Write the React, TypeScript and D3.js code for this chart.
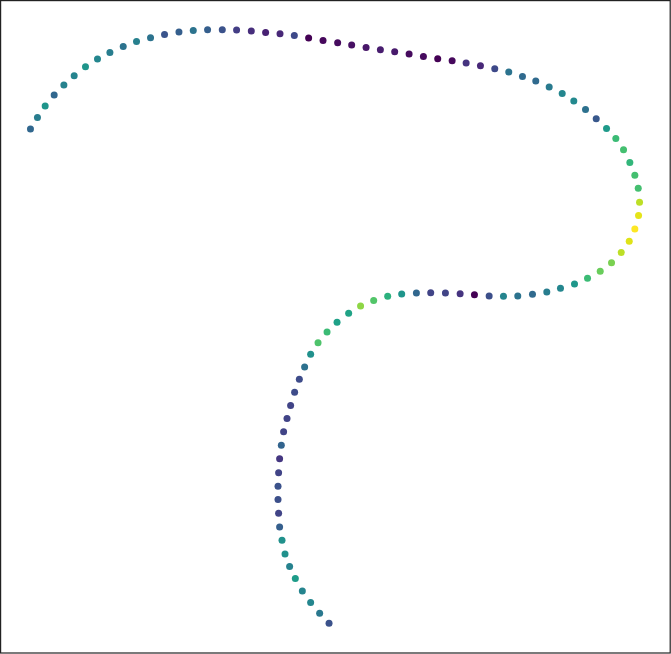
import React from "react";
import * as d3 from "d3";

const xs = [
  0.303, 0.373, 0.45, 0.54, 0.637, 0.74, 0.853, 0.973, 1.097, 1.23,
  1.363, 1.503, 1.643, 1.787, 1.93, 2.073, 2.22, 2.363, 2.51, 2.653,
  2.797, 2.94, 3.083, 3.227, 3.373, 3.513, 3.657, 3.8, 3.943, 4.087,
  4.23, 4.373, 4.517, 4.657, 4.8, 4.943, 5.083, 5.22, 5.353, 5.487,
  5.617, 5.733, 5.85, 5.957, 6.06, 6.153, 6.23, 6.293, 6.343, 6.377,
  6.39, 6.38, 6.343, 6.287, 6.207, 6.11, 5.997, 5.87, 5.74, 5.6,
  5.463, 5.32, 5.173, 5.03, 4.887, 4.74, 4.597, 4.45, 4.303, 4.16,
  4.013, 3.873, 3.733, 3.602, 3.483, 3.367, 3.267, 3.177, 3.103, 3.043,
  2.99, 2.943, 2.903, 2.867, 2.833, 2.81, 2.793, 2.783, 2.777, 2.777,
  2.783, 2.793, 2.817, 2.847, 2.893, 2.95, 3.02, 3.103, 3.193, 3.287,
];

const ys = [
  5.207, 5.323, 5.437, 5.547, 5.647, 5.74, 5.83, 5.907, 5.973, 6.033,
  6.083, 6.12, 6.153, 6.177, 6.193, 6.2, 6.2, 6.197, 6.187, 6.173,
  6.16, 6.143, 6.117, 6.093, 6.07, 6.047, 6.023, 6.0, 5.98, 5.957,
  5.933, 5.91, 5.89, 5.867, 5.84, 5.81, 5.777, 5.733, 5.687, 5.627,
  5.563, 5.487, 5.403, 5.31, 5.213, 5.113, 5.0, 4.873, 4.747, 4.617,
  4.477, 4.343, 4.21, 4.087, 3.973, 3.873, 3.787, 3.717, 3.66, 3.617,
  3.58, 3.557, 3.54, 3.537, 3.54, 3.553, 3.563, 3.57, 3.573, 3.57,
  3.56, 3.537, 3.495, 3.44, 3.367, 3.277, 3.18, 3.073, 2.957, 2.83,
  2.707, 2.577, 2.447, 2.317, 2.183, 2.05, 1.915, 1.773, 1.64, 1.507,
  1.37, 1.233, 1.1, 0.963, 0.837, 0.717, 0.593, 0.477, 0.37, 0.27,
];

const colorValues = [
  0.33, 0.42, 0.52, 0.33, 0.44, 0.45, 0.52, 0.46, 0.42, 0.38,
  0.43, 0.38, 0.26, 0.3, 0.38, 0.3, 0.25, 0.18, 0.13, 0.09,
  0.11, 0.22, 0.0, 0.02, 0.03, 0.04, 0.06, 0.08, 0.07, 0.03,
  0.03, 0.0, 0.02, 0.15, 0.11, 0.22, 0.38, 0.34, 0.34, 0.41,
  0.46, 0.47, 0.37, 0.27, 0.54, 0.68, 0.7, 0.66, 0.7, 0.7,
  0.9, 0.96, 1.0, 0.95, 0.9, 0.8, 0.77, 0.68, 0.53, 0.46,
  0.42, 0.34, 0.38, 0.45, 0.24, 0.0, 0.15, 0.2, 0.2, 0.33,
  0.52, 0.64, 0.73, 0.83, 0.58, 0.57, 0.68, 0.72, 0.5, 0.37,
  0.23, 0.23, 0.2, 0.2, 0.2, 0.32, 0.16, 0.2, 0.25, 0.24,
  0.2, 0.3, 0.5, 0.5, 0.44, 0.55, 0.45, 0.46, 0.4, 0.25,
];

const W = 671;
const H = 654;

function padded(ext: [number, number]): [number, number] {
  const span = ext[1] - ext[0];
  return [ext[0] - span * 0.05, ext[1] + span * 0.05];
}

export default function App() {
  const points = xs.map((x, i) => ({ x, y: ys[i], c: colorValues[i] }));
  const xScale = d3
    .scaleLinear()
    .domain(padded(d3.extent(xs) as [number, number]))
    .range([0, 670]);
  const yScale = d3
    .scaleLinear()
    .domain(padded(d3.extent(ys) as [number, number]))
    .range([653, 0]);
  const color = d3.scaleSequential(d3.interpolateViridis).domain([0, 1]);

  return (
    <div style={{ position: "absolute", left: 0, top: 0 }}>
      <svg width={W} height={H} style={{ display: "block", background: "#fff" }}>
        <rect x={0} y={0} width={W} height={H} fill="#fff" />
        {points.map((p, i) => (
          <circle
            key={i}
            cx={xScale(p.x)}
            cy={yScale(p.y)}
            r={3.5}
            fill={color(p.c)}
          />
        ))}
        <rect
          x={0.6}
          y={0.6}
          width={669.6}
          height={652.4}
          fill="none"
          stroke="#222"
          strokeWidth={1.2}
        />
      </svg>
    </div>
  );
}
